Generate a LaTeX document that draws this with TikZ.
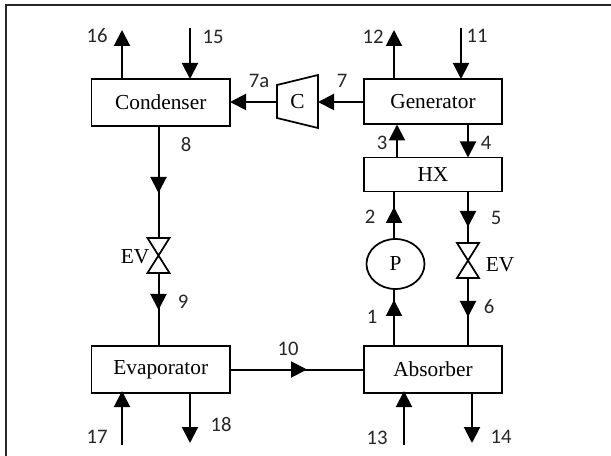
\documentclass[tikz,border=0pt]{standalone}
\usepackage{fontspec}
\setmainfont{Liberation Serif}
\newfontfamily\numfont{Carlito}
\usetikzlibrary{arrows.meta,shapes.geometric}

\tikzset{every picture/.style={line width=1.3pt}}
\tikzset{
  unitbox/.style={draw,rectangle,minimum width=103.9pt,outer sep=0pt,inner sep=0pt,font=\fontsize{16}{18}\selectfont},
  flow/.style={-{Triangle[length=12pt,width=12pt]},line width=1.5pt},
  pipe/.style={line width=1.5pt},
  tag/.style={inner sep=0pt,font=\numfont\fontsize{15.5}{18}\selectfont,text=black!85},
  evtext/.style={inner sep=0pt,font=\fontsize{16}{18}\selectfont},
  valvebox/.style={rectangle,minimum width=16.5pt,minimum height=26.25pt,inner sep=0pt,outer sep=0pt}
}

\begin{document}
\begin{tikzpicture}[x=0.75pt,y=0.75pt,yscale=-1,xscale=1]
\useasboundingbox (0,0) rectangle (611,456);

%Frame
\draw [line width=1.4pt,color=black!85] (6,456) -- (6,5) -- (611,5) ;

%Units
\node [unitbox,minimum height=35.25pt] (cond) at (160.75,102.5) {Condenser};
\node [unitbox,minimum height=33.75pt] (gen) at (433,101.5) {Generator};
\node [unitbox,minimum height=25.5pt] (hx) at (433,174.5) {HX};
\node [unitbox,minimum height=35.25pt] (evap) at (160.75,369.5) {Evaporator};
\node [unitbox,minimum height=35.25pt] (abs) at (433,369.5) {Absorber};
\node [draw,ellipse,minimum width=43.5pt,minimum height=37.5pt,inner sep=0pt,outer sep=0pt,font=\fontsize{16}{18}\selectfont] (pump) at (395.5,264) {P};

%Compressor
\node [minimum width=30.75pt,minimum height=20pt,inner sep=0pt,outer sep=0pt,font=\fontsize{16}{18}\selectfont] (comp) at (297.5,102) {C};
\draw (277,85) -- (318,75) -- (318,128) -- (277,118) -- cycle ;

%Valves
\node [valvebox] (evl) at (158.5,255.5) {};
\draw (evl.north west) -- (evl.north east) -- (evl.south west) -- (evl.south east) -- cycle ;
\node [valvebox] (evr) at (468,260.5) {};
\draw (evr.north west) -- (evr.north east) -- (evr.south west) -- (evr.south east) -- cycle ;

%Free ends
\coordinate (p16) at (122,30);
\coordinate (p15) at (190,28);
\coordinate (p12) at (394,30);
\coordinate (p11) at (461,28);
\coordinate (p17) at (122,445);
\coordinate (p18) at (190,443);
\coordinate (p13) at (404,445);
\coordinate (p14) at (472,443);
%Arrow heads on the lines
\coordinate (t8) at (158.5,193);
\coordinate (t9) at (158.5,310);
\coordinate (t10) at (307,369.5);
\coordinate (t2) at (394,207);
\coordinate (t5) at (468,227);
\coordinate (t1) at (394,300);
\coordinate (t6) at (468,317);

%Straight Lines
\draw [flow] (p16 |- cond.north) -- (p16) ;
\draw [flow] (p15) -- (p15 |- cond.north) ;
\draw [flow] (comp.west) -- (comp.west -| cond.east) ;
\draw [flow] (comp.east -| gen.west) -- (comp.east) ;
\draw [flow] (p12 |- gen.north) -- (p12) ;
\draw [flow] (p11) -- (p11 |- gen.north) ;
\draw [flow] (397,157) -- (397,124.5) ;
\draw [flow] (evr.north |- gen.south) -- (evr.north |- hx.north) ;

\draw [pipe] (cond.south -| evl.north) -- (evl.north) ;
\draw [flow] (cond.south -| evl.north) -- (t8) ;
\draw [pipe] (evl.south) -- (evl.south |- evap.north) ;
\draw [flow] (evl.south) -- (t9) ;

\draw [pipe] (evap.east) -- (abs.west) ;
\draw [flow] (evap.east) -- (t10) ;

\draw [pipe] (pump.north -| t2) -- (hx.south -| t2) ;
\draw [flow] (pump.north -| t2) -- (t2) ;
\draw [pipe] (hx.south -| t5) -- (evr.north) ;
\draw [flow] (hx.south -| t5) -- (t5) ;
\draw [pipe] (abs.north -| t1) -- (pump.south -| t1) ;
\draw [flow] (abs.north -| t1) -- (t1) ;
\draw [pipe] (evr.south) -- (abs.north -| t6) ;
\draw [flow] (evr.south) -- (t6) ;

\draw [flow] (p17) -- ([yshift=-1.5]p17 |- evap.south) ;
\draw [flow] (p18 |- evap.south) -- (p18) ;
\draw [flow] (p13) -- ([yshift=-1.5]p13 |- abs.south) ;
\draw [flow] (p14 |- abs.south) -- (p14) ;

%Text Nodes
\node [tag] (l16) at (97,36) {16};
\node [tag] (l15) at (213,37) {15};
\node [tag] (l7a) at (259,81) {7a};
\node [tag] (l7) at (342,81) {7};
\node [tag] (l8) at (186,145) {8};
\node [tag] (l12) at (373,37) {12};
\node [tag] (l11) at (477,36) {11};
\node [tag] (l3) at (382,143) {3};
\node [tag] (l4) at (486,143) {4};
\node [tag] (l2) at (370,217) {2};
\node [tag] (l5) at (496,218) {5};
\node [tag] (l9) at (183,302) {9};
\node [tag] (l10) at (288,349) {10};
\node [tag] (l18) at (221,425) {18};
\node [tag] (l17) at (97,437) {17};
\node [tag] (l1) at (372,317) {1};
\node [tag] (l6) at (489,307) {6};
\node [tag] (l13) at (377,438) {13};
\node [tag] (l14) at (501,437) {14};
\node [evtext] (lev1) at (135,257) {EV};
\node [evtext] (lev2) at (500,265) {EV};

\end{tikzpicture}
\end{document}
